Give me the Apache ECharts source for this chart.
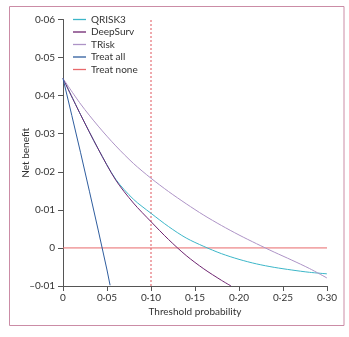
<!DOCTYPE html>
<html>
<head>
<meta charset="utf-8">
<script src="https://cdn.jsdelivr.net/npm/echarts@6/dist/echarts.min.js"></script>
<style>html,body{margin:0;padding:0;background:#fff}#c{width:349px;height:337px}</style>
</head>
<body>
<div id="c"></div>
<script>
// ---- data ----
const seriesNames = ['QRISK3', 'DeepSurv', 'TRisk', 'Treat all', 'Treat none'];

const qriskX = [0, 0.02, 0.04, 0.06, 0.08, 0.10, 0.12, 0.14, 0.16, 0.18, 0.20, 0.22, 0.24, 0.26, 0.28, 0.30];
const qriskY = [0.0445, 0.0350, 0.0260, 0.0180, 0.0128, 0.0091, 0.0056, 0.0026, 0.0004, -0.0015, -0.0030, -0.0042, -0.0051, -0.0058, -0.0064, -0.0068];

const deepX = [0, 0.02, 0.04, 0.06, 0.08, 0.10, 0.12, 0.14, 0.16, 0.18, 0.191];
const deepY = [0.0445, 0.0350, 0.0260, 0.0178, 0.0118, 0.0069, 0.0022, -0.0020, -0.0055, -0.0085, -0.0100];

const triskX = [0, 0.02, 0.04, 0.06, 0.08, 0.10, 0.12, 0.14, 0.16, 0.18, 0.20, 0.22, 0.24, 0.26, 0.28, 0.30];
const triskY = [0.0445, 0.0378, 0.0320, 0.0268, 0.0222, 0.0183, 0.0148, 0.0116, 0.0086, 0.0059, 0.0034, 0.0011, -0.0011, -0.0032, -0.0054, -0.0079];

const allX = [0, 0.01, 0.02, 0.03, 0.04, 0.05, 0.0535];
const allY = [0.0445, 0.0348, 0.0250, 0.0149, 0.0047, -0.0058, -0.0098];

const noneX = [0, 0.30];
const noneY = [0, 0];

const thresholdX = [0.10, 0.10];
const thresholdY = [-0.01, 0.06];

const xTickValues = [0, 0.05, 0.10, 0.15, 0.20, 0.25, 0.30];
const xTickLabels = ['0', '0·05', '0·10', '0·15', '0·20', '0·25', '0·30'];
const yTickValues = [-0.01, 0, 0.01, 0.02, 0.03, 0.04, 0.05, 0.06];
const yTickLabels = ['–0·01', '0', '0·01', '0·02', '0·03', '0·04', '0·05', '0·06'];

const colors = ['#3cb6c8', '#6e2470', '#ad93c6', '#2f5d9e', '#e8696b'];
const thresholdColor = '#e0545c';

function pairs(xs, ys) { return xs.map((x, i) => [x, ys[i]]); }
function lookup(vals, labels, v) {
  for (let i = 0; i < vals.length; i++) if (Math.abs(vals[i] - v) < 1e-9) return labels[i];
  return '';
}

const font = 'Lato';
const chart = echarts.init(document.getElementById('c'), null, {renderer: 'canvas'});
const mkLine = (name, data, color, extra) => Object.assign({
  name, type: 'line', data, symbol: 'none', smooth: 0.3,
  lineStyle: {color, width: 1}, itemStyle: {color}, z: 3, animation: false
}, extra || {});

chart.setOption({
  animation: false,
  textStyle: {fontFamily: font},
  graphic: [{
    type: 'rect', shape: {x: 9.5, y: 6.5, width: 334.5, height: 319},
    style: {fill: 'none', stroke: '#cb8ca6', lineWidth: 1}, silent: true, z: -1
  }],
  grid: {left: 63, right: 22, top: 19.5, bottom: 51, containLabel: false},
  legend: {
    orient: 'vertical', left: 73, top: 14.5, padding: 0,
    icon: 'rect', itemWidth: 13, itemHeight: 1.3, itemGap: 2.5,
    data: seriesNames,
    textStyle: {fontFamily: font, fontSize: 10, color: '#333', lineHeight: 10},
    selectedMode: false
  },
  xAxis: {
    type: 'value', min: 0, max: 0.30, interval: 0.05,
    name: 'Threshold probability', nameLocation: 'middle', nameGap: 21,
    nameMoveOverlap: false,
    nameTextStyle: {fontFamily: font, fontSize: 10, color: '#333'},
    axisLine: {show: true, onZero: false, lineStyle: {color: '#555', width: 1}},
    axisTick: {show: true, inside: false, length: 5, lineStyle: {color: '#555'}},
    axisLabel: {fontFamily: font, fontSize: 10, color: '#333', margin: 7,
      formatter: v => lookup(xTickValues, xTickLabels, v)},
    splitLine: {show: false}
  },
  yAxis: {
    type: 'value', min: -0.01, max: 0.06, interval: 0.01,
    name: 'Net benefit', nameLocation: 'middle', nameGap: 32, nameRotate: 90,
    nameMoveOverlap: false,
    nameTextStyle: {fontFamily: font, fontSize: 10, color: '#333'},
    axisLine: {show: true, onZero: false, lineStyle: {color: '#555', width: 1}},
    axisTick: {show: true, inside: false, length: 5, lineStyle: {color: '#555'}},
    axisLabel: {fontFamily: font, fontSize: 10, color: '#333', margin: 8,
      formatter: v => lookup(yTickValues, yTickLabels, v)},
    splitLine: {show: false}
  },
  series: [
    mkLine('QRISK3', pairs(qriskX, qriskY), colors[0]),
    mkLine('DeepSurv', pairs(deepX, deepY), colors[1]),
    mkLine('TRisk', pairs(triskX, triskY), colors[2]),
    mkLine('Treat all', pairs(allX, allY), colors[3], {smooth: false}),
    mkLine('Treat none', pairs(noneX, noneY), colors[4], {smooth: false, z: 2}),
    mkLine('threshold', pairs(thresholdX, thresholdY), thresholdColor,
      {smooth: false, z: 2, lineStyle: {color: thresholdColor, width: 1, type: [2, 2]}})
  ]
});
</script>
</body>
</html>
